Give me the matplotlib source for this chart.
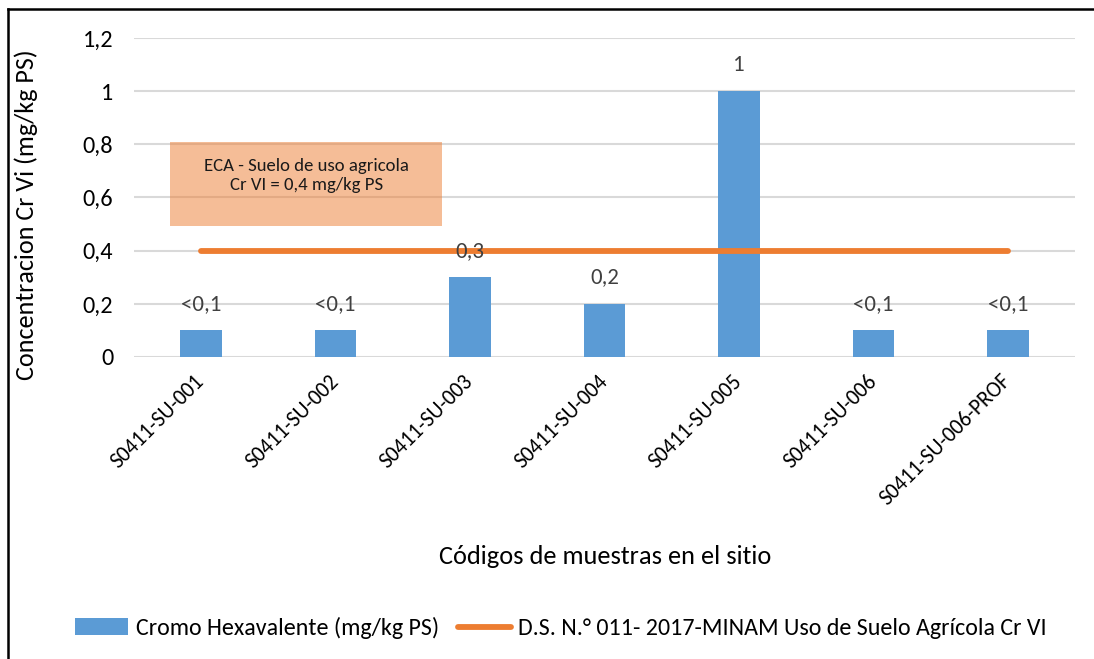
import matplotlib
matplotlib.use("Agg")
import matplotlib.pyplot as plt
from matplotlib import font_manager
from matplotlib.patches import Rectangle
from matplotlib.lines import Line2D
import numpy as np

# ---- data ----
categories = ["S0411-SU-001", "S0411-SU-002", "S0411-SU-003", "S0411-SU-004",
              "S0411-SU-005", "S0411-SU-006", "S0411-SU-006-PROF"]
values = [0.1, 0.1, 0.3, 0.2, 1.0, 0.1, 0.1]
value_labels = ["<0,1", "<0,1", "0,3", "0,2", "1", "<0,1", "<0,1"]
limit_values = [0.4, 0.4, 0.4, 0.4, 0.4, 0.4, 0.4]
y_ticks = [0, 0.2, 0.4, 0.6, 0.8, 1.0, 1.2]
y_tick_labels = ["0", "0,2", "0,4", "0,6", "0,8", "1", "1,2"]
bar_name = "Cromo Hexavalente (mg/kg PS)"
line_name = "D.S. N.° 011- 2017-MINAM Uso de Suelo Agrícola Cr VI"
box_text = "ECA - Suelo de uso agricola\nCr VI = 0,4 mg/kg PS"

available = {f.name for f in font_manager.fontManager.ttflist}
fam = "DejaVu Sans"
for cand in ["Carlito", "Lato", "Open Sans"]:
    if cand in available:
        fam = cand
        break
plt.rcParams["font.family"] = [fam, "DejaVu Sans"]

BLUE = "#5B9BD5"
ORANGE = "#ED7D31"
GRID = "#D9D9D9"

fig = plt.figure(figsize=(10.94, 6.59), dpi=100)
ax = fig.add_axes([134/1094, 1-357/659, (1075-134)/1094, (357-38)/659])

x = np.arange(len(categories))
ax.bar(x, values, width=0.31, color=BLUE, zorder=3)
ax.plot(x, limit_values, color=ORANGE, lw=4.2, solid_capstyle="round", zorder=4)

for xi, v, lab in zip(x, values, value_labels):
    ax.annotate(lab, (xi, v), xytext=(0, 19), textcoords="offset points",
                ha="center", va="center", fontsize=16.5, color="#404040", zorder=5)

ax.set_xlim(-0.5, len(categories) - 0.5)
ax.set_ylim(0, 1.2)
ax.set_yticks(y_ticks)
ax.set_yticklabels(y_tick_labels, fontsize=17.5)
ax.yaxis.grid(True, color=GRID, lw=1.5, zorder=0)
ax.set_axisbelow(True)
for s in ax.spines.values():
    s.set_visible(False)
ax.tick_params(axis="y", length=0, pad=15)
ax.tick_params(axis="x", length=0, pad=15)
ax.set_xticks(x)
ax.set_xticklabels(categories, rotation=45, ha="right", va="center",
                   rotation_mode="anchor", fontsize=15.5)
ax.set_ylabel("Concentracion Cr Vi (mg/kg PS)", fontsize=18.8)
ax.yaxis.set_label_coords((38 - 134) / 941, (357 - 215) / 319)
fig.text(605/1094, 1-557/659, "Códigos de muestras en el sitio", fontsize=19,
         ha="center", va="center")

# annotation box
rect = Rectangle((-0.232, 0.493), 2.024, 0.316, facecolor=ORANGE, alpha=0.5,
                 edgecolor="none", zorder=2)
ax.add_patch(rect)
ax.text(0.78, 0.683, box_text, ha="center", va="center", fontsize=13.5,
        color="#1a1a1a", linespacing=1.25, zorder=5)

handles = [Rectangle((0, 0), 1, 1, facecolor=BLUE),
           Line2D([0], [0], color=ORANGE, lw=4.2, solid_capstyle="round")]
fig.legend(handles, [bar_name, line_name], loc="center", bbox_to_anchor=(561/1094, 1-628/659),
           ncol=2, frameon=False, fontsize=17.3, handlelength=2.2, handleheight=0.7,
           handletextpad=0.3, columnspacing=0.8)

# outer frame (left and top only visible)
fig.add_artist(Line2D([8/1094, 8/1094], [0, 1-9/659], color="black", lw=1.8))
fig.add_artist(Line2D([8/1094, 1], [1-9/659, 1-9/659], color="black", lw=1.8))

fig.savefig("out.png", dpi=100)
